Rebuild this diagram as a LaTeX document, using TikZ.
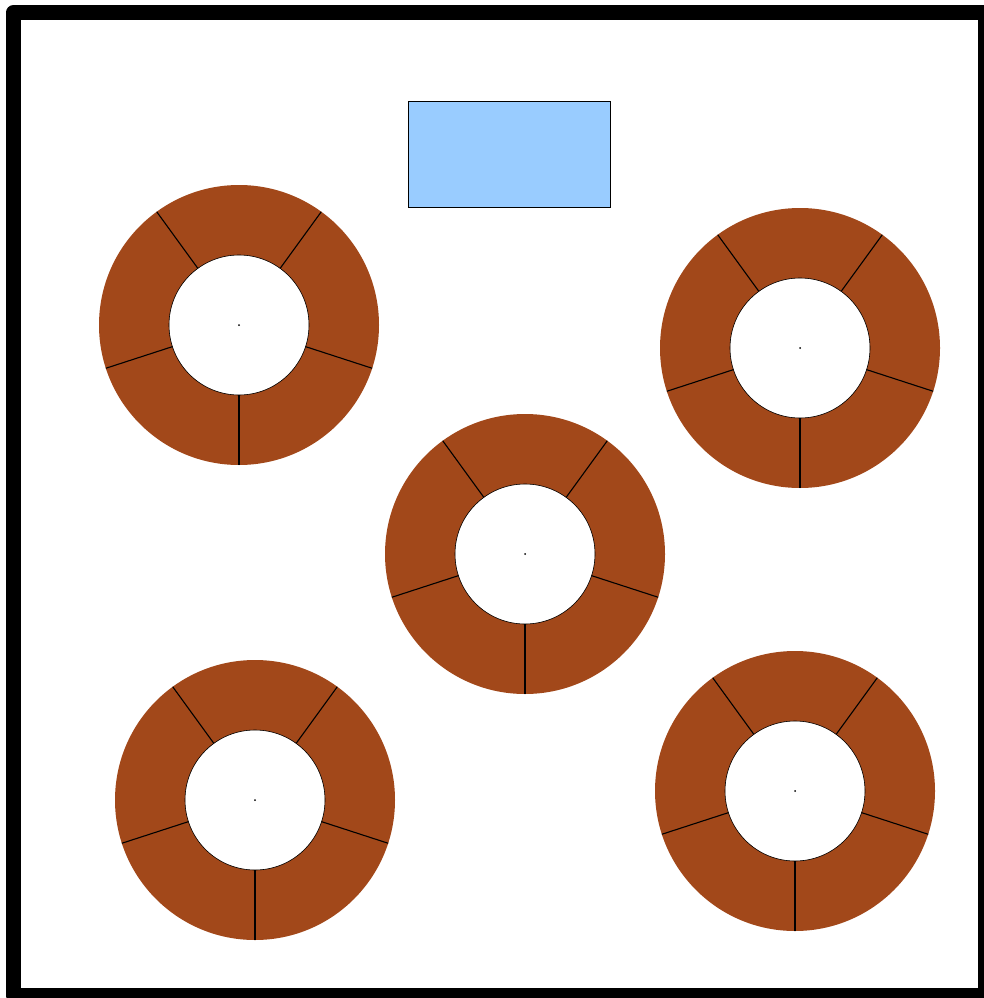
\documentclass[tikz,border=0pt]{standalone}
\usepackage{tikz}
\usetikzlibrary{calc}
\definecolor{RingBrown}{HTML}{A2481A}
\definecolor{PanelBlue}{HTML}{99CCFF}

\begin{document}
\begin{tikzpicture}[
  x=1pt, y=-1pt,
  frame/.style={draw=black, line width=15pt, line join=round},
  panel/.style={draw=black, line width=1.2pt, fill=PanelBlue, inner sep=0pt,
    minimum width=202pt, minimum height=106pt, anchor=north west},
  ringfill/.style={fill=RingBrown, even odd rule},
  hole/.style={draw=black, line width=0.6pt},
  spoke/.style={draw=black, line width=1.1pt}
]
\useasboundingbox (0,0) rectangle (984,998);
\draw[frame] (13,13) rectangle (985.5,995.5);
\node[panel] (screen) at (408,101) {};

% five segmented rings
\foreach \name/\cx/\cy in {ringA/239/325, ringB/800/348, ringC/525/554,
    ringD/255/800, ringE/795/791} {
  \coordinate (\name) at (\cx,\cy);
  \fill[ringfill] (\name) circle[radius=140pt] (\name) circle[radius=70pt];
  \draw[hole] (\name) circle[radius=70pt];
  \foreach \ang in {270,342,54,126,198}
    \draw[spoke] ($(\name)+(\ang:70pt)$) -- ($(\name)+(\ang:140pt)$);
  \fill (\name) circle[radius=1pt];
}
\end{tikzpicture}
\end{document}
